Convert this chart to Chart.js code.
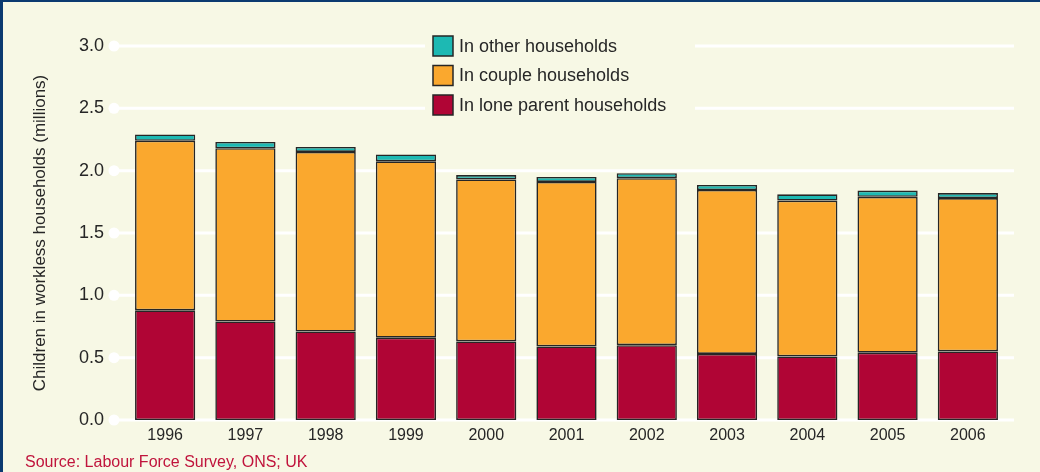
<!DOCTYPE html>
<html>
<head>
<meta charset="utf-8">
<script src="https://cdn.jsdelivr.net/npm/chart.js@4"></script>
<style>
  html, body { margin: 0; padding: 0; background: #F7F8E5; }
  #wrap { width: 1040px; height: 472px; }
  canvas { display: block; }
</style>
</head>
<body>
<div id="wrap"><canvas id="workless" width="1040" height="472"></canvas></div>
<script>
// Datos (millones de niños)
const years = ['1996', '1997', '1998', '1999', '2000', '2001', '2002', '2003', '2004', '2005', '2006'];
const loneParent = [0.88, 0.79, 0.71, 0.66, 0.63, 0.59, 0.60, 0.53, 0.51, 0.54, 0.55];
const couple = [1.36, 1.39, 1.44, 1.415, 1.30, 1.32, 1.34, 1.315, 1.25, 1.25, 1.23];
const other = [0.05, 0.05, 0.04, 0.055, 0.035, 0.04, 0.04, 0.04, 0.05, 0.05, 0.04];
const yTicks = { min: 0, max: 3, step: 0.5 };

const seriesNames = ['In lone parent households', 'In couple households', 'In other households'];
const seriesColors = ['#B00535', '#FAA82E', '#1DB9B3'];

const FONT = '"Liberation Sans", Arial, Helvetica, sans-serif';
const BG = '#F7F8E5';
const INK = '#262626';

document.addEventListener('DOMContentLoaded', () => {

    // 1. Líneas de la cuadrícula blancas con un punto a la izquierda
    const gridPlugin = {
        id: 'whiteGrid',
        beforeDatasetsDraw(chart) {
            const { ctx, chartArea, scales } = chart;
            ctx.save();
            ctx.strokeStyle = '#FFFFFF';
            ctx.fillStyle = '#FFFFFF';
            ctx.lineWidth = 3;
            scales.y.ticks.forEach(t => {
                const y = scales.y.getPixelForValue(t.value);
                ctx.beginPath();
                ctx.moveTo(chartArea.left - 11, y);
                ctx.lineTo(chartArea.right + 6, y);
                ctx.stroke();
                ctx.beginPath();
                ctx.arc(chartArea.left - 11, y, 5.5, 0, Math.PI * 2);
                ctx.fill();
            });
            ctx.restore();
        }
    };

    // 2. Leyenda, fuente y bordes
    const extrasPlugin = {
        id: 'extras',
        afterDraw(chart) {
            const { ctx } = chart;
            ctx.save();
            // fondo de la leyenda tapa la cuadrícula
            ctx.fillStyle = BG;
            ctx.fillRect(425, 30, 270, 92);
            ctx.font = '18px ' + FONT;
            ctx.textBaseline = 'middle';
            ctx.textAlign = 'left';
            const order = [2, 1, 0];
            order.forEach((di, i) => {
                const ds = chart.data.datasets[di];
                const cy = 46 + i * 29.5;
                ctx.fillStyle = ds.backgroundColor;
                ctx.fillRect(433, cy - 10, 20, 20);
                ctx.strokeStyle = INK;
                ctx.lineWidth = 1.5;
                ctx.strokeRect(433, cy - 10, 20, 20);
                ctx.fillStyle = INK;
                ctx.fillText(ds.label, 459, cy + 1);
            });
            // fuente
            ctx.font = '16px ' + FONT;
            ctx.textBaseline = 'alphabetic';
            ctx.fillStyle = '#C0143C';
            ctx.fillText('Source: Labour Force Survey, ONS; UK', 25, 467);
            // borde azul
            ctx.fillStyle = '#0B3A70';
            ctx.fillRect(0, 0, 1040, 2);
            ctx.fillRect(0, 0, 3, 472);
            ctx.restore();
        }
    };

    const values = [loneParent, couple, other];

    new Chart(document.getElementById('workless'), {
        type: 'bar',
        data: {
            labels: years,
            datasets: values.map((v, i) => ({
                label: seriesNames[i],
                data: v,
                backgroundColor: seriesColors[i],
                borderColor: INK,
                borderWidth: 1.6,
                borderSkipped: false,
                barPercentage: 0.75,
                categoryPercentage: 1
            }))
        },
        options: {
            responsive: false,
            animation: false,
            devicePixelRatio: 1,
            layout: { padding: { left: 3, top: 46, right: 32, bottom: 0 } },
            plugins: {
                legend: { display: false },
                tooltip: { enabled: false }
            },
            scales: {
                x: {
                    stacked: true,
                    grid: { display: false, drawTicks: false },
                    border: { display: false },
                    ticks: {
                        color: INK,
                        font: { family: FONT, size: 16 },
                        padding: 6,
                        maxRotation: 0
                    },
                    afterFit(scale) { scale.height = 52; }
                },
                y: {
                    stacked: true,
                    min: yTicks.min,
                    max: yTicks.max,
                    grid: { display: false, drawTicks: false },
                    border: { display: false },
                    ticks: {
                        stepSize: yTicks.step,
                        color: INK,
                        font: { family: FONT, size: 18 },
                        padding: 21,
                        callback: v => Number(v).toFixed(1)
                    },
                    title: {
                        display: true,
                        text: 'Children in workless households (millions)',
                        color: INK,
                        font: { family: FONT, size: 17 },
                        padding: { top: 27, bottom: 0 }
                    },
                    afterFit(scale) { scale.width = 122; }
                }
            }
        },
        plugins: [gridPlugin, extrasPlugin]
    });
});
</script>
</body>
</html>
